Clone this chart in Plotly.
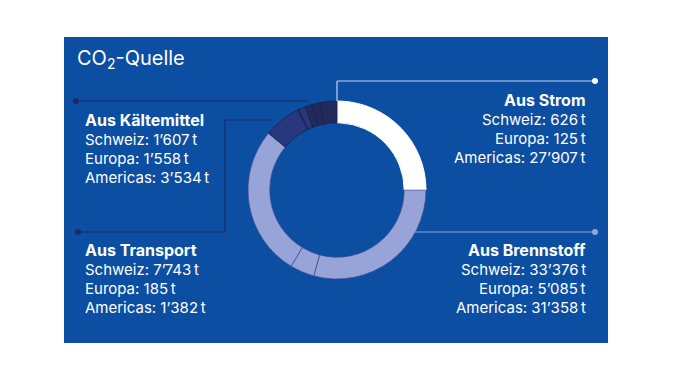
import plotly.graph_objects as go

# ---- data ----
categories = ["Aus Strom", "Aus Brennstoff", "Aus Transport", "Aus Kältemittel"]
regions = ["Schweiz", "Europa", "Americas"]
strom = [626, 125, 27907]
brennstoff = [33376, 5085, 31358]
transport = [7743, 185, 1382]
kaeltemittel = [1607, 1558, 3534]
title_text = "CO<sub>2</sub>-Quelle"

series = [strom, brennstoff, transport, kaeltemittel]

# ---- styles ----
BG = "#0b4ea2"
cat_colors = ["#ffffff", "#98a4d8", "#27387f", "#222a5c"]
cat_lines = ["rgba(255,255,255,1)", "rgba(60,75,140,0.7)", "rgba(28,34,84,0.9)", "rgba(28,34,84,0.9)"]
FONT = "Inter"


def fmt(v):
    return f"{v:,}".replace(",", "\u2019") + "\u2009t"


labels, values, colors, lcolors = [], [], [], []
for cat, vals, c, lc in zip(categories, series, cat_colors, cat_lines):
    for r, v in zip(regions, vals):
        labels.append(f"{cat} – {r}")
        values.append(v)
        colors.append(c)
        lcolors.append(lc)

fig = go.Figure()

# Pie (donut)
W, H = 685, 388
cx, cy, R = 337, 190, 89
fig.add_trace(go.Pie(
    labels=labels, values=values, sort=False, direction="clockwise", rotation=0,
    hole=0.755, textinfo="none", hoverinfo="skip", showlegend=False,
    marker=dict(colors=colors, line=dict(color=lcolors, width=1)),
    domain=dict(x=[(cx - R) / W, (cx + R) / W], y=[1 - (cy + R) / H, 1 - (cy - R) / H]),
))

shapes = []
# blue panel
shapes.append(dict(type="rect", xref="x", yref="y", x0=64, x1=608, y0=37, y1=343,
                   fillcolor=BG, line=dict(width=0), layer="below"))


def line(pts, color, width=1.2):
    for (x0, y0), (x1, y1) in zip(pts[:-1], pts[1:]):
        shapes.append(dict(type="line", xref="x", yref="y", x0=x0, y0=y0, x1=x1, y1=y1,
                           line=dict(color=color, width=width), layer="above"))


def dot(x, y, color, r=3):
    shapes.append(dict(type="circle", xref="x", yref="y", x0=x - r, x1=x + r, y0=y - r, y1=y + r,
                       fillcolor=color, line=dict(width=0), layer="above"))


# connector lines
line([(337, 101), (337, 81), (595, 81)], "#c9d1f2")
dot(595, 81, "#ffffff")
line([(414, 232), (595, 232)], "#8e9bd6")
dot(595, 232, "#98a4d8")
line([(76, 101), (308, 101)], "#1e2a66")
dot(76, 101, "#1e2a66")
line([(78, 232), (225, 232), (225, 120), (272, 120)], "#1e2a66")
dot(78, 232, "#1e2a66")

annotations = []
annotations.append(dict(x=75, y=59, xref="x", yref="y", text=title_text, showarrow=False,
                        xanchor="left", yanchor="middle",
                        font=dict(family=FONT, size=20, color="white")))

blocks = [
    (588, 100, "right"),   # Strom
    (588, 250, "right"),   # Brennstoff
    (83, 250, "left"),     # Transport
    (83, 120, "left"),     # Kältemittel
]
step = 19.3
for cat, vals, (bx, by, anchor) in zip(categories, series, blocks):
    annotations.append(dict(x=bx, y=by, xref="x", yref="y", text=f"<b>{cat}</b>", showarrow=False,
                            xanchor=anchor, yanchor="middle",
                            font=dict(family=FONT, size=16, color="white")))
    for i, (r, v) in enumerate(zip(regions, vals)):
        annotations.append(dict(x=bx, y=by + step * (i + 1), xref="x", yref="y",
                                text=f"{r}: {fmt(v)}", showarrow=False,
                                xanchor=anchor, yanchor="middle",
                                font=dict(family=FONT, size=15, color="white")))

fig.update_layout(
    width=W, height=H, margin=dict(l=0, r=0, t=0, b=0),
    paper_bgcolor="white", plot_bgcolor="rgba(0,0,0,0)",
    xaxis=dict(range=[0, W], visible=False, fixedrange=True),
    yaxis=dict(range=[H, 0], visible=False, fixedrange=True),
    shapes=shapes, annotations=annotations, showlegend=False,
)

fig.write_html("out.html", config={"displayModeBar": False},
               post_script="document.body.style.margin='0';")
